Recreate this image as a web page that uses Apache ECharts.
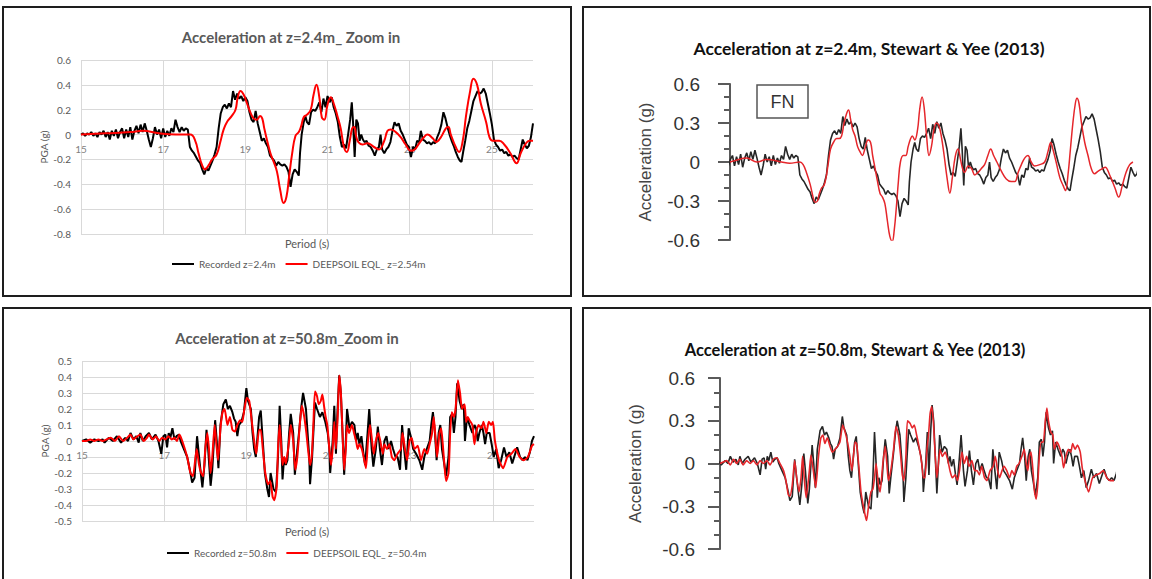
<!DOCTYPE html>
<html>
<head>
<meta charset="utf-8">
<script src="https://cdn.jsdelivr.net/npm/echarts@6/dist/echarts.min.js"></script>
<style>
  html, body { margin: 0; padding: 0; background: #fff; }
  #chart { width: 1152px; height: 579px; }
</style>
</head>
<body>
<div id="chart"></div>
<script>
// Time (s) / acceleration (g) pairs

// Recorded motion at z = 2.4 m
const rec24 = [
  [15.00,0.00],[15.05,0.01],[15.10,-0.01],[15.15,0.01],[15.20,0.00],[15.25,0.02],[15.30,-0.01],[15.35,0.01],
  [15.40,-0.02],[15.45,0.02],[15.50,0.00],[15.55,0.03],[15.60,-0.02],[15.65,0.02],[15.70,-0.04],[15.75,0.03],
  [15.80,-0.01],[15.85,0.04],[15.90,-0.03],[15.95,0.02],[16.00,0.05],[16.05,-0.03],[16.10,0.04],[16.15,-0.02],
  [16.20,0.06],[16.25,-0.04],[16.30,0.03],[16.35,0.07],[16.40,0.01],[16.45,0.08],[16.50,0.02],[16.55,0.09],
  [16.60,0.03],[16.65,-0.04],[16.70,-0.10],[16.75,-0.03],[16.80,0.06],[16.85,0.00],[16.90,0.04],[16.95,-0.03],
  [17.00,0.05],[17.05,-0.02],[17.10,0.03],[17.15,-0.01],[17.20,0.05],[17.25,0.02],[17.30,0.12],[17.35,0.06],
  [17.40,0.02],[17.45,0.06],[17.50,0.03],[17.55,0.05],[17.60,0.04],[17.65,-0.10],[17.70,-0.13],[17.75,-0.15],
  [17.80,-0.18],[17.85,-0.21],[17.90,-0.23],[17.95,-0.28],[18.00,-0.32],[18.05,-0.27],[18.10,-0.29],[18.15,-0.25],
  [18.20,-0.21],[18.25,-0.16],[18.30,-0.10],[18.35,0.05],[18.40,0.17],[18.45,0.22],[18.50,0.24],[18.55,0.21],
  [18.60,0.25],[18.65,0.22],[18.70,0.35],[18.75,0.28],[18.80,0.33],[18.85,0.29],[18.90,0.31],[18.95,0.27],
  [19.00,0.30],[19.05,0.27],[19.10,0.18],[19.15,0.12],[19.20,0.10],[19.25,0.19],[19.30,0.09],[19.35,0.02],
  [19.40,-0.05],[19.45,-0.03],[19.50,-0.07],[19.55,-0.10],[19.60,-0.17],[19.65,-0.19],[19.70,-0.21],[19.75,-0.25],
  [19.80,-0.22],[19.85,-0.24],[19.90,-0.25],[19.95,-0.24],[20.00,-0.26],[20.05,-0.30],[20.10,-0.42],[20.15,-0.32],
  [20.20,-0.28],[20.25,-0.30],[20.30,-0.33],[20.33,-0.15],[20.37,0.00],[20.42,0.10],[20.46,0.15],[20.50,0.10],
  [20.55,0.08],[20.60,0.18],[20.65,0.20],[20.70,0.19],[20.75,0.22],[20.80,0.26],[20.85,0.18],[20.90,0.29],
  [20.95,0.22],[21.00,0.31],[21.05,0.26],[21.10,0.30],[21.15,0.22],[21.20,0.17],[21.25,0.10],[21.30,-0.02],
  [21.35,-0.10],[21.40,-0.08],[21.45,-0.11],[21.50,0.00],[21.55,0.12],[21.59,0.26],[21.62,0.10],[21.66,-0.18],
  [21.70,0.12],[21.74,0.09],[21.78,-0.05],[21.82,0.00],[21.86,-0.04],[21.90,-0.06],[21.95,-0.05],[22.00,-0.09],
  [22.05,-0.10],[22.10,-0.13],[22.15,-0.17],[22.20,-0.12],[22.25,-0.10],[22.29,0.00],[22.33,-0.12],[22.38,-0.15],
  [22.43,-0.12],[22.48,-0.10],[22.53,-0.06],[22.58,0.03],[22.63,0.10],[22.68,0.07],[22.73,0.09],[22.78,0.03],
  [22.83,0.00],[22.88,-0.04],[22.93,-0.08],[22.98,-0.10],[23.03,-0.18],[23.08,-0.10],[23.13,-0.12],[23.18,-0.05],
  [23.23,-0.06],[23.27,0.03],[23.32,-0.04],[23.37,-0.05],[23.42,-0.07],[23.47,-0.06],[23.52,-0.08],[23.57,-0.06],
  [23.62,-0.07],[23.67,-0.02],[23.72,0.02],[23.77,0.08],[23.82,0.18],[23.87,0.13],[23.92,0.06],[23.97,0.00],
  [24.02,-0.05],[24.07,-0.09],[24.12,-0.14],[24.17,-0.18],[24.22,-0.21],[24.26,-0.22],[24.30,-0.14],[24.35,-0.05],
  [24.40,0.05],[24.45,0.11],[24.50,0.19],[24.55,0.27],[24.60,0.31],[24.65,0.35],[24.70,0.33],[24.75,0.34],
  [24.80,0.37],[24.85,0.33],[24.90,0.25],[24.95,0.17],[25.00,0.08],[25.05,-0.04],[25.10,-0.08],[25.15,-0.10],
  [25.20,-0.13],[25.25,-0.12],[25.30,-0.15],[25.35,-0.14],[25.40,-0.17],[25.45,-0.16],[25.50,-0.18],[25.55,-0.17],
  [25.60,-0.19],[25.65,-0.20],[25.70,-0.12],[25.75,-0.04],[25.80,-0.08],[25.85,-0.11],[25.90,-0.09],[25.95,-0.02],
  [26.00,0.09]
];

// DEEPSOIL equivalent-linear result at z = 2.54 m
const deep254 = [
  [15.00,0.00],[15.60,0.01],[16.20,0.02],[16.50,0.03],[16.90,0.01],[17.30,0.00],[17.66,0.00],[17.78,-0.05],
  [17.86,-0.15],[17.94,-0.24],[18.02,-0.28],[18.10,-0.25],[18.19,-0.20],[18.30,-0.16],[18.39,-0.06],[18.47,0.04],
  [18.55,0.10],[18.67,0.15],[18.76,0.20],[18.81,0.29],[18.88,0.35],[18.96,0.32],[19.04,0.25],[19.12,0.18],
  [19.20,0.13],[19.28,0.12],[19.36,0.15],[19.41,0.13],[19.46,0.05],[19.53,-0.05],[19.61,-0.15],[19.69,-0.22],
  [19.77,-0.30],[19.85,-0.45],[19.93,-0.55],[20.00,-0.50],[20.06,-0.35],[20.14,-0.15],[20.22,-0.01],[20.30,0.02],
  [20.36,0.07],[20.42,0.14],[20.50,0.16],[20.59,0.20],[20.66,0.32],[20.73,0.40],[20.80,0.30],[20.86,0.14],
  [20.92,0.12],[21.00,0.24],[21.08,0.30],[21.15,0.25],[21.24,0.15],[21.32,0.05],[21.40,-0.10],[21.47,-0.14],
  [21.54,-0.05],[21.60,0.05],[21.65,0.06],[21.70,-0.02],[21.75,-0.06],[21.85,-0.08],[21.97,-0.07],[22.13,-0.10],
  [22.25,-0.12],[22.38,-0.05],[22.46,0.03],[22.54,0.04],[22.66,0.02],[22.78,-0.02],[22.90,-0.08],[23.03,-0.13],
  [23.12,-0.12],[23.23,-0.07],[23.35,-0.02],[23.43,0.00],[23.56,-0.03],[23.64,-0.06],[23.76,-0.02],[23.88,0.05],
  [23.94,0.06],[24.00,0.00],[24.12,-0.10],[24.20,-0.14],[24.29,-0.05],[24.37,0.15],[24.47,0.35],[24.55,0.45],
  [24.64,0.40],[24.73,0.25],[24.86,0.10],[24.94,-0.02],[25.02,-0.05],[25.18,-0.05],[25.30,-0.08],[25.45,-0.15],
  [25.60,-0.23],[25.70,-0.15],[25.83,-0.07],[25.91,-0.05],[26.00,-0.05]
];

// Recorded motion at z = 50.8 m
const rec508 = [
  [15.00,0.00],[15.10,0.01],[15.20,-0.01],[15.30,0.01],[15.40,0.00],[15.50,0.01],[15.55,-0.01],[15.65,0.02],
  [15.75,0.00],[15.85,0.03],[15.95,-0.01],[16.05,0.02],[16.12,0.00],[16.18,0.05],[16.25,0.01],[16.32,0.03],
  [16.38,-0.01],[16.42,0.05],[16.48,0.00],[16.55,0.03],[16.63,0.05],[16.70,0.01],[16.79,0.04],[16.86,0.00],
  [16.93,-0.08],[16.98,0.03],[17.03,0.04],[17.07,-0.04],[17.11,0.05],[17.15,0.02],[17.20,0.08],[17.25,0.01],
  [17.30,0.03],[17.36,0.04],[17.40,0.00],[17.48,-0.05],[17.56,-0.10],[17.64,-0.20],[17.68,-0.26],[17.74,-0.23],
  [17.80,0.03],[17.85,-0.10],[17.89,-0.20],[17.93,-0.29],[17.98,-0.15],[18.03,0.07],[18.07,-0.05],[18.13,-0.28],
  [18.17,-0.18],[18.24,0.13],[18.28,0.00],[18.32,-0.17],[18.37,0.10],[18.44,0.23],[18.50,0.26],[18.55,0.20],
  [18.60,0.22],[18.66,0.18],[18.70,0.14],[18.74,0.12],[18.78,0.03],[18.82,0.10],[18.88,0.12],[18.94,0.18],
  [19.00,0.33],[19.04,0.25],[19.11,0.20],[19.15,0.05],[19.19,-0.05],[19.23,-0.10],[19.31,0.15],[19.35,0.19],
  [19.40,0.00],[19.45,-0.20],[19.51,-0.30],[19.55,-0.35],[19.59,-0.20],[19.66,-0.30],[19.72,-0.32],[19.77,-0.10],
  [19.81,0.22],[19.85,0.00],[19.88,-0.24],[19.92,-0.10],[19.96,-0.15],[20.00,-0.12],[20.04,0.05],[20.08,0.17],
  [20.14,0.05],[20.18,-0.21],[20.22,-0.10],[20.28,0.05],[20.34,0.22],[20.38,0.30],[20.45,0.20],[20.49,0.05],
  [20.53,-0.10],[20.55,-0.27],[20.60,-0.10],[20.63,0.05],[20.67,0.24],[20.72,0.20],[20.79,0.15],[20.85,0.18],
  [20.92,0.12],[20.98,0.05],[21.02,-0.05],[21.04,-0.20],[21.10,0.00],[21.14,0.22],[21.18,-0.08],[21.22,0.20],
  [21.26,0.41],[21.30,0.30],[21.34,0.05],[21.38,-0.21],[21.42,0.00],[21.45,0.20],[21.51,0.08],[21.57,0.12],
  [21.63,0.10],[21.67,0.00],[21.71,0.05],[21.75,-0.02],[21.80,0.03],[21.85,-0.08],[21.89,-0.15],[21.95,0.05],
  [21.99,0.20],[22.05,-0.05],[22.09,-0.16],[22.15,-0.05],[22.20,0.09],[22.25,-0.05],[22.30,-0.15],[22.36,0.00],
  [22.41,0.03],[22.46,-0.05],[22.52,0.00],[22.57,-0.05],[22.63,-0.10],[22.68,-0.10],[22.74,-0.18],[22.79,0.10],
  [22.84,-0.05],[22.89,-0.18],[22.95,0.08],[23.01,0.02],[23.06,-0.05],[23.13,-0.08],[23.21,-0.12],[23.28,-0.18],
  [23.33,-0.10],[23.39,-0.05],[23.46,0.00],[23.50,0.10],[23.54,0.18],[23.59,0.05],[23.63,-0.12],[23.68,0.05],
  [23.72,0.10],[23.76,-0.05],[23.82,-0.15],[23.86,-0.22],[23.92,-0.10],[23.96,0.15],[24.01,0.17],[24.05,0.05],
  [24.09,0.15],[24.13,0.36],[24.19,0.25],[24.24,0.20],[24.29,0.23],[24.32,0.00],[24.37,0.15],[24.43,0.10],
  [24.50,0.05],[24.55,0.10],[24.59,0.08],[24.63,0.00],[24.67,0.05],[24.73,0.10],[24.77,0.05],[24.81,-0.02],
  [24.85,0.05],[24.92,0.05],[24.97,-0.02],[25.02,-0.10],[25.08,-0.05],[25.14,-0.17],[25.20,-0.12],[25.27,-0.04],
  [25.33,-0.10],[25.40,-0.07],[25.47,-0.14],[25.53,-0.09],[25.59,-0.04],[25.66,-0.10],[25.72,-0.12],[25.78,-0.10],
  [25.84,-0.12],[25.90,-0.07],[25.95,0.00],[26.00,0.03]
];

// DEEPSOIL equivalent-linear result at z = 50.4 m
const deep504 = [
  [15.00,0.00],[15.10,0.00],[15.20,0.01],[15.30,0.00],[15.40,0.01],[15.50,0.00],[15.60,0.01],[15.70,0.02],
  [15.80,0.00],[15.90,0.03],[16.00,0.00],[16.10,0.02],[16.18,0.04],[16.25,0.01],[16.35,0.03],[16.42,0.04],
  [16.50,0.00],[16.58,0.02],[16.63,0.04],[16.72,0.01],[16.80,0.03],[16.88,0.00],[16.95,0.02],[17.03,0.01],
  [17.10,0.03],[17.18,0.01],[17.25,0.02],[17.31,0.00],[17.37,0.04],[17.44,0.00],[17.56,-0.10],[17.64,-0.20],
  [17.70,-0.22],[17.79,-0.05],[17.85,-0.15],[17.90,-0.20],[17.95,-0.22],[18.00,-0.05],[18.05,0.05],[18.09,-0.05],
  [18.13,-0.20],[18.17,-0.10],[18.23,0.10],[18.27,-0.02],[18.31,-0.12],[18.37,0.08],[18.42,0.18],[18.47,0.20],
  [18.54,0.10],[18.60,0.15],[18.66,0.07],[18.72,0.06],[18.78,0.10],[18.85,0.13],[18.90,0.12],[18.94,0.18],
  [19.01,0.27],[19.07,0.25],[19.12,0.15],[19.19,0.00],[19.24,-0.08],[19.31,0.07],[19.35,0.07],[19.40,-0.05],
  [19.46,-0.20],[19.53,-0.27],[19.58,-0.25],[19.64,-0.35],[19.68,-0.37],[19.74,-0.28],[19.77,-0.05],[19.81,0.10],
  [19.84,0.00],[19.88,-0.15],[19.92,-0.10],[19.96,-0.14],[20.00,-0.08],[20.04,0.00],[20.08,0.10],[20.14,0.00],
  [20.19,-0.18],[20.24,-0.10],[20.30,0.10],[20.35,0.22],[20.41,0.15],[20.46,0.05],[20.50,-0.05],[20.55,-0.15],
  [20.59,-0.10],[20.63,0.10],[20.67,0.31],[20.72,0.28],[20.76,0.23],[20.81,0.25],[20.85,0.29],[20.89,0.22],
  [20.93,0.15],[20.97,0.10],[21.02,-0.05],[21.06,-0.15],[21.10,-0.05],[21.14,0.12],[21.18,-0.05],[21.23,0.20],
  [21.26,0.41],[21.30,0.30],[21.34,0.05],[21.38,-0.18],[21.42,-0.05],[21.45,0.10],[21.50,0.05],[21.57,0.10],
  [21.62,0.05],[21.67,0.00],[21.71,-0.05],[21.75,-0.02],[21.81,-0.05],[21.87,-0.12],[21.91,-0.17],[21.96,0.00],
  [22.01,0.10],[22.06,0.00],[22.10,-0.08],[22.15,0.00],[22.21,0.05],[22.26,0.00],[22.32,-0.08],[22.36,-0.02],
  [22.42,-0.05],[22.48,-0.02],[22.54,-0.10],[22.60,-0.12],[22.68,-0.08],[22.76,-0.05],[22.80,0.05],[22.86,-0.05],
  [22.91,-0.12],[22.97,0.00],[23.02,0.02],[23.09,-0.05],[23.17,-0.03],[23.25,-0.12],[23.33,-0.05],[23.40,-0.08],
  [23.46,-0.02],[23.52,0.05],[23.56,0.15],[23.60,0.03],[23.64,-0.10],[23.70,0.05],[23.74,0.08],[23.78,-0.02],
  [23.82,-0.15],[23.86,-0.25],[23.92,-0.20],[23.96,0.05],[24.00,0.18],[24.05,0.15],[24.09,0.20],[24.15,0.38],
  [24.20,0.30],[24.25,0.20],[24.31,0.23],[24.35,0.12],[24.39,0.15],[24.43,0.13],[24.50,0.10],[24.55,-0.02],
  [24.59,0.05],[24.65,0.10],[24.72,0.08],[24.77,0.12],[24.84,0.05],[24.90,0.12],[24.96,0.10],[25.00,0.12],
  [25.05,0.00],[25.15,-0.12],[25.25,-0.17],[25.35,-0.10],[25.45,-0.08],[25.55,-0.05],[25.65,-0.10],[25.75,-0.12],
  [25.85,-0.10],[25.95,-0.03],[26.00,-0.02]
];

// Stewart & Yee (2013) simulation, fault-normal, z = 2.4 m
const sy24 = [
  [15.94,0.00],[16.05,0.01],[16.35,0.03],[16.60,0.00],[16.84,0.02],[17.20,0.00],[17.40,-0.01],[17.65,0.00],
  [17.73,-0.02],[17.81,-0.08],[17.90,-0.17],[17.98,-0.28],[18.02,-0.31],[18.08,-0.30],[18.12,-0.25],[18.18,-0.20],
  [18.24,-0.18],[18.29,-0.12],[18.34,-0.02],[18.40,0.10],[18.47,0.15],[18.55,0.18],[18.61,0.18],[18.67,0.20],
  [18.73,0.30],[18.79,0.37],[18.84,0.40],[18.89,0.33],[18.94,0.25],[19.00,0.20],[19.06,0.12],[19.12,0.08],
  [19.18,0.05],[19.24,0.10],[19.32,0.17],[19.38,0.15],[19.43,0.05],[19.49,-0.05],[19.55,-0.15],[19.61,-0.24],
  [19.67,-0.27],[19.73,-0.32],[19.79,-0.45],[19.85,-0.57],[19.91,-0.61],[19.96,-0.52],[20.01,-0.35],[20.06,-0.15],
  [20.11,0.00],[20.18,0.05],[20.24,0.05],[20.30,0.12],[20.36,0.18],[20.40,0.20],[20.46,0.17],[20.53,0.25],
  [20.58,0.40],[20.64,0.50],[20.69,0.42],[20.75,0.20],[20.81,0.05],[20.87,0.12],[20.93,0.25],[20.99,0.30],
  [21.05,0.28],[21.11,0.20],[21.18,0.05],[21.25,-0.12],[21.32,-0.24],[21.38,-0.12],[21.45,0.04],[21.52,0.10],
  [21.58,0.02],[21.63,-0.05],[21.68,-0.08],[21.77,-0.03],[21.85,-0.05],[21.93,-0.10],[22.01,-0.08],[22.09,-0.05],
  [22.17,-0.02],[22.25,0.05],[22.32,0.10],[22.39,0.05],[22.47,0.00],[22.58,-0.07],[22.70,-0.13],[22.82,-0.15],
  [22.91,-0.15],[22.99,-0.08],[23.07,-0.02],[23.15,0.03],[23.23,0.05],[23.31,0.00],[23.39,-0.03],[23.52,-0.02],
  [23.64,0.00],[23.72,0.08],[23.79,0.15],[23.84,0.10],[23.92,0.00],[24.01,-0.12],[24.09,-0.18],[24.15,-0.22],
  [24.21,-0.10],[24.27,0.10],[24.33,0.30],[24.39,0.45],[24.43,0.49],[24.48,0.45],[24.54,0.30],[24.62,0.15],
  [24.70,0.05],[24.78,-0.05],[24.86,-0.09],[24.95,-0.07],[25.06,-0.05],[25.12,-0.04],[25.23,-0.10],[25.36,-0.20],
  [25.45,-0.27],[25.54,-0.18],[25.63,-0.08],[25.72,-0.02],[25.80,0.00]
];

// Stewart & Yee (2013) simulation, z = 50.8 m
const sy508 = [
  [15.92,0.00],[16.00,0.01],[16.09,0.02],[16.18,-0.01],[16.26,0.03],[16.34,0.00],[16.42,0.03],[16.50,-0.01],
  [16.59,0.02],[16.68,0.00],[16.76,0.02],[16.85,-0.01],[16.93,0.02],[17.01,0.00],[17.10,0.02],[17.18,-0.01],
  [17.26,0.03],[17.35,0.04],[17.43,0.00],[17.52,-0.05],[17.58,-0.12],[17.64,-0.22],[17.68,-0.23],[17.74,-0.15],
  [17.80,0.02],[17.85,-0.10],[17.91,-0.20],[17.96,-0.10],[18.00,0.05],[18.04,-0.10],[18.09,-0.24],[18.17,-0.05],
  [18.21,0.06],[18.27,-0.05],[18.33,-0.17],[18.40,0.05],[18.46,0.18],[18.51,0.20],[18.56,0.14],[18.62,0.18],
  [18.69,0.12],[18.75,0.08],[18.82,0.10],[18.88,0.12],[18.94,0.15],[19.01,0.27],[19.07,0.22],[19.13,0.15],
  [19.19,0.05],[19.24,-0.05],[19.28,0.05],[19.32,0.15],[19.36,0.14],[19.41,0.00],[19.47,-0.20],[19.53,-0.30],
  [19.58,-0.37],[19.61,-0.40],[19.66,-0.30],[19.72,-0.20],[19.77,-0.18],[19.81,-0.10],[19.85,0.00],[19.91,-0.15],
  [19.95,-0.20],[20.02,0.00],[20.08,0.12],[20.12,0.00],[20.16,-0.12],[20.22,-0.05],[20.29,0.10],[20.35,0.26],
  [20.41,0.20],[20.47,0.05],[20.51,-0.08],[20.55,-0.12],[20.60,0.05],[20.64,0.30],[20.71,0.28],[20.76,0.25],
  [20.81,0.27],[20.87,0.20],[20.93,0.12],[21.00,0.00],[21.04,-0.10],[21.08,-0.10],[21.13,0.10],[21.17,0.20],
  [21.21,0.35],[21.25,0.40],[21.29,0.30],[21.34,0.05],[21.38,-0.10],[21.42,0.00],[21.46,0.10],[21.52,0.05],
  [21.59,0.08],[21.65,0.03],[21.71,-0.05],[21.77,-0.10],[21.84,-0.08],[21.90,-0.12],[21.95,-0.05],[22.01,0.08],
  [22.07,0.00],[22.13,0.05],[22.19,-0.02],[22.26,0.02],[22.33,-0.05],[22.39,-0.05],[22.45,-0.08],[22.51,-0.02],
  [22.58,-0.10],[22.64,-0.12],[22.72,-0.05],[22.80,-0.02],[22.85,0.05],[22.91,-0.05],[22.96,-0.10],[23.02,-0.05],
  [23.07,-0.02],[23.14,-0.05],[23.21,-0.10],[23.27,-0.05],[23.33,-0.08],[23.39,-0.02],[23.45,0.00],[23.52,0.05],
  [23.58,0.10],[23.63,0.00],[23.67,-0.05],[23.71,0.05],[23.75,0.08],[23.80,-0.05],[23.84,-0.20],[23.88,-0.25],
  [23.92,-0.15],[23.96,0.05],[24.01,0.15],[24.06,0.15],[24.11,0.30],[24.15,0.39],[24.19,0.30],[24.25,0.22],
  [24.30,0.20],[24.34,0.10],[24.40,0.15],[24.46,0.12],[24.53,0.05],[24.57,-0.03],[24.63,0.05],[24.69,0.10],
  [24.75,0.08],[24.80,0.14],[24.86,0.10],[24.92,0.13],[24.99,0.08],[25.04,-0.03],[25.11,-0.12],[25.20,-0.20],
  [25.30,-0.10],[25.39,-0.08],[25.48,-0.07],[25.57,-0.05],[25.66,-0.10],[25.75,-0.12],[25.84,-0.12]
];

// Axis ranges and tick steps
const periodTicks = { min: 15, max: 26, step: 2 };
const pgaTop = { min: -0.8, max: 0.6, step: 0.2 };
const pgaBottom = { min: -0.5, max: 0.5, step: 0.1 };
const accRange = { min: -0.6, max: 0.6, step: 0.3 };
const fnWindowTop = { min: 15.94, max: 25.85 };
const fnWindowBottom = { min: 15.92, max: 25.84 };

const fmt = v => (Math.abs(v) < 1e-9 ? '0' : v.toFixed(1));

const GRID_GRAY = '#d9d9d9';
const LABEL_GRAY = '#595959';
const EXCEL_FONT = 'Lato, "Open Sans", sans-serif';
const PAPER_FONT = '"Liberation Sans", Arial, sans-serif';

// Left-hand panels: plot boxes; the period axis sits on the zero line
const leftGrids = [
  { left: 81, top: 60, width: 452, height: 174, range: pgaTop },
  { left: 82, top: 361, width: 452, height: 160, range: pgaBottom }
];
function zeroLineOffset(g) {
  // distance from the plot's bottom edge up to the value 0
  return -g.height * (0 - g.range.min) / (g.range.max - g.range.min);
}

function periodAxis(gridIndex, g) {
  return {
    gridIndex, type: 'value', position: 'bottom', offset: zeroLineOffset(g),
    min: periodTicks.min, max: periodTicks.max, interval: periodTicks.step,
    axisLine: { show: true, onZero: false, lineStyle: { color: GRID_GRAY, width: 1 } },
    axisTick: { show: false },
    axisLabel: { show: true, showMaxLabel: false, color: '#7f7f7f', fontSize: 10, margin: 9, fontFamily: EXCEL_FONT },
    splitLine: { show: true, showMinLine: true, showMaxLine: false, lineStyle: { color: GRID_GRAY, width: 1 } }
  };
}
function pgaAxis(gridIndex, r) {
  return {
    gridIndex, type: 'value', min: r.min, max: r.max, interval: r.step,
    axisLine: { show: false }, axisTick: { show: false },
    axisLabel: { formatter: fmt, color: LABEL_GRAY, fontSize: 10, margin: 10, fontFamily: EXCEL_FONT },
    splitLine: { show: true, lineStyle: { color: GRID_GRAY, width: 1 } },
    name: 'PGA (g)', nameLocation: 'middle', nameGap: 31,
    nameTextStyle: { color: LABEL_GRAY, fontSize: 10, fontFamily: EXCEL_FONT }
  };
}
function hiddenTimeAxis(gridIndex, w) {
  return { gridIndex, type: 'value', min: w.min, max: w.max, show: false };
}
function accAxis(gridIndex, margin, nameGap) {
  const stroke = { color: '#5a5a5a', width: 2 };
  return {
    gridIndex, type: 'value', min: accRange.min, max: accRange.max, interval: accRange.step,
    axisLine: { show: true, onZero: false, lineStyle: stroke },
    axisTick: { show: true, length: 12, lineStyle: stroke },
    minorTick: { show: true, splitNumber: 3, length: 6, lineStyle: stroke },
    splitLine: { show: false },
    axisLabel: { formatter: fmt, color: '#333', fontSize: 19, margin, fontFamily: PAPER_FONT },
    name: 'Acceleration (g)', nameLocation: 'middle', nameGap,
    nameTextStyle: { color: '#444', fontSize: 17, fontFamily: PAPER_FONT }
  };
}
function lineSeries(name, data, xi, color, width, smooth) {
  return {
    name, type: 'line', data, xAxisIndex: xi, yAxisIndex: xi,
    showSymbol: false, symbol: 'none', smooth: smooth || false,
    color, lineStyle: { color, width }, silent: true, clip: true
  };
}
function legendAt(names, left, top) {
  return {
    data: names, left, top, padding: 0, orient: 'horizontal',
    icon: 'rect', itemWidth: 22, itemHeight: 2, itemGap: 10, selectedMode: false,
    textStyle: { color: LABEL_GRAY, fontSize: 10, fontFamily: EXCEL_FONT }
  };
}
function label(text, x, y, font, fill) {
  return { type: 'text', x, y, silent: true,
    style: { text, font, fill, textAlign: 'center', textVerticalAlign: 'middle' } };
}
function frame(x, y, w, h, lw, color) {
  return { type: 'rect', silent: true, shape: { x, y, width: w, height: h },
    style: { fill: 'none', stroke: color, lineWidth: lw } };
}
function gridBox(g) {
  return { left: g.left, top: g.top, width: g.width, height: g.height, outerBoundsMode: 'none' };
}

const chart = echarts.init(document.getElementById('chart'), null, { renderer: 'svg' });

chart.setOption({
  animation: false,
  backgroundColor: '#fff',
  grid: [
    gridBox(leftGrids[0]),
    { left: 730, top: 84, width: 405, height: 156, outerBoundsMode: 'none' },
    gridBox(leftGrids[1]),
    { left: 720, top: 378, width: 394, height: 171, outerBoundsMode: 'none' }
  ],
  xAxis: [
    periodAxis(0, leftGrids[0]),
    hiddenTimeAxis(1, fnWindowTop),
    periodAxis(2, leftGrids[1]),
    hiddenTimeAxis(3, fnWindowBottom)
  ],
  yAxis: [
    pgaAxis(0, pgaTop),
    accAxis(1, 30, 76),
    pgaAxis(2, pgaBottom),
    accAxis(3, 25, 76)
  ],
  legend: [
    legendAt(['Recorded z=2.4m', 'DEEPSOIL EQL_ z=2.54m'], 172, 259),
    legendAt(['Recorded z=50.8m', 'DEEPSOIL EQL_ z=50.4m'], 167, 548)
  ],
  series: [
    lineSeries('Recorded z=2.4m', rec24, 0, '#000000', 2),
    lineSeries('DEEPSOIL EQL_ z=2.54m', deep254, 0, '#ff0000', 2, 0.45),
    lineSeries('Recorded FN z=2.4m', rec24, 1, '#262626', 1.6),
    lineSeries('Stewart & Yee z=2.4m', sy24, 1, '#e5262b', 1.5, 0.4),
    lineSeries('Recorded z=50.8m', rec508, 2, '#000000', 2),
    lineSeries('DEEPSOIL EQL_ z=50.4m', deep504, 2, '#ff0000', 2, 0.2),
    lineSeries('Recorded FN z=50.8m', rec508, 3, '#262626', 1.6),
    lineSeries('Stewart & Yee z=50.8m', sy508, 3, '#e5262b', 1.6, 0.2)
  ],
  graphic: [
    frame(3, 7, 568, 289, 2, '#1e1e1e'),
    frame(583, 7, 567, 289, 2, '#1e1e1e'),
    frame(3, 308, 568, 280, 2, '#1e1e1e'),
    frame(583, 308, 567, 280, 2, '#1e1e1e'),
    label('Acceleration at z=2.4m_ Zoom in', 291, 37, 'bold 15px ' + EXCEL_FONT, LABEL_GRAY),
    label('Period (s)', 307, 243, '11px ' + EXCEL_FONT, LABEL_GRAY),
    label('Acceleration at z=50.8m_Zoom in', 287, 338, 'bold 15px ' + EXCEL_FONT, LABEL_GRAY),
    label('Period (s)', 307, 531, '11px ' + EXCEL_FONT, LABEL_GRAY),
    label('Acceleration at z=2.4m, Stewart & Yee (2013)', 869, 48, 'bold 17.5px ' + EXCEL_FONT, '#111'),
    label('Acceleration at z=50.8m, Stewart & Yee (2013)', 855, 350, 'bold 16.5px ' + EXCEL_FONT, '#111'),
    frame(757, 85, 51, 33, 1.5, '#555'),
    label('FN', 782.5, 102, '18px ' + PAPER_FONT, '#333')
  ]
});
</script>
</body>
</html>
